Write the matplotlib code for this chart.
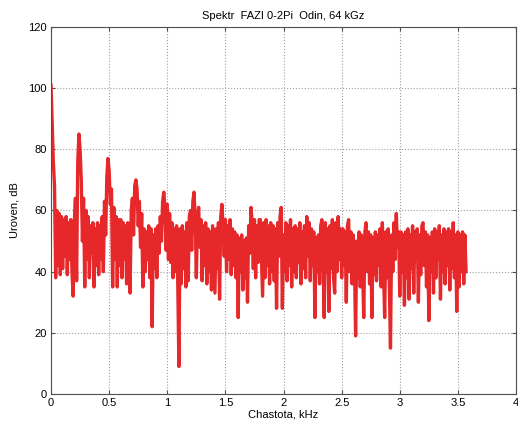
import matplotlib.pyplot as plt
import numpy as np

plt.rcParams['font.family'] = ['Liberation Sans', 'DejaVu Sans']

# spectrum levels, dB, one value every 0.01 kHz starting at 0
freq_step = 0.01
levels = [
    101, 88, 76, 68, 38, 60, 42, 59, 39, 58,
    41, 57, 45, 58, 39, 56, 44, 57, 40, 32,
    56, 64, 37, 76, 85, 80, 70, 50, 64, 35,
    60, 44, 58, 38, 55, 46, 56, 35, 54, 42,
    56, 39, 55, 44, 58, 40, 63, 52, 71, 77,
    73, 62, 67, 35, 61, 44, 58, 35, 57, 42,
    57, 38, 56, 44, 55, 36, 56, 44, 33, 60,
    64, 52, 68, 70, 67, 55, 63, 48, 59, 35,
    54, 40, 53, 44, 55, 38, 54, 22, 52, 41,
    54, 38, 55, 46, 58, 50, 63, 66, 61, 47,
    62, 44, 59, 43, 56, 38, 54, 40, 55, 37,
    9, 54, 36, 55, 41, 53, 35, 56, 37, 58,
    60, 47, 63, 66, 58, 38, 57, 61, 48, 57,
    37, 55, 42, 56, 36, 54, 40, 53, 34, 55,
    44, 33, 54, 41, 56, 31, 58, 62, 55, 45,
    57, 40, 55, 44, 57, 39, 54, 42, 53, 38,
    52, 25, 51, 40, 52, 34, 50, 38, 51, 30,
    55, 46, 61, 56, 41, 57, 38, 55, 43, 57,
    57, 44, 32, 56, 38, 57, 42, 55, 36, 56,
    40, 55, 37, 54, 28, 56, 45, 58, 61, 28,
    52, 40, 56, 37, 55, 42, 57, 35, 54, 40,
    55, 38, 54, 43, 56, 36, 53, 41, 55, 38,
    58, 45, 56, 37, 54, 42, 53, 25, 51, 40,
    52, 36, 55, 57, 42, 25, 56, 40, 54, 27,
    55, 41, 57, 38, 33, 56, 40, 58, 44, 54,
    38, 54, 42, 53, 30, 55, 57, 40, 53, 36,
    52, 43, 19, 50, 38, 53, 35, 52, 41, 25,
    53, 56, 40, 53, 36, 52, 25, 51, 39, 53,
    37, 52, 42, 54, 35, 56, 41, 25, 53, 38,
    54, 36, 15, 52, 40, 56, 44, 59, 48, 53,
    32, 53, 40, 52, 29, 53, 38, 54, 31, 52,
    41, 55, 33, 53, 44, 54, 30, 52, 39, 55,
    56, 42, 53, 35, 52, 24, 51, 40, 53, 33,
    54, 38, 53, 44, 55, 31, 52, 40, 54, 36,
    53, 42, 54, 34, 53, 41, 56, 38, 52, 27,
    53, 35, 52, 40, 53, 36, 52, 40,
]
freqs = np.arange(len(levels)) * freq_step

fig = plt.figure(figsize=(5.18, 4.23), dpi=100)
ax = fig.add_axes([0.0985, 0.0686, 0.8977, 0.8676])

ax.plot(freqs, levels, color='#e6282b', linewidth=2.4)

ax.set_xlim(0, 4)
ax.set_ylim(0, 120)
ax.set_xticks(np.arange(0, 4.01, 0.5))
ax.set_xticklabels(['0', '0.5', '1', '1.5', '2', '2.5', '3', '3.5', '4'])
ax.set_yticks(np.arange(0, 121, 20))
ax.grid(True, linestyle=':', color='#a0a0a0', linewidth=0.8)
ax.tick_params(direction='in', top=True, right=True, labelsize=8, length=3,
               color='#505050', pad=3)
for s in ax.spines.values():
    s.set_color('#505050')
    s.set_linewidth(0.8)

ax.set_title('Spektr  FAZI 0-2Pi  Odin, 64 kGz', fontsize=8, pad=5.5)
ax.set_xlabel('Chastota, kHz', fontsize=8, labelpad=1)
ax.set_ylabel('Uroven, dB', fontsize=8, labelpad=6)

fig.savefig('out.png', dpi=100)
